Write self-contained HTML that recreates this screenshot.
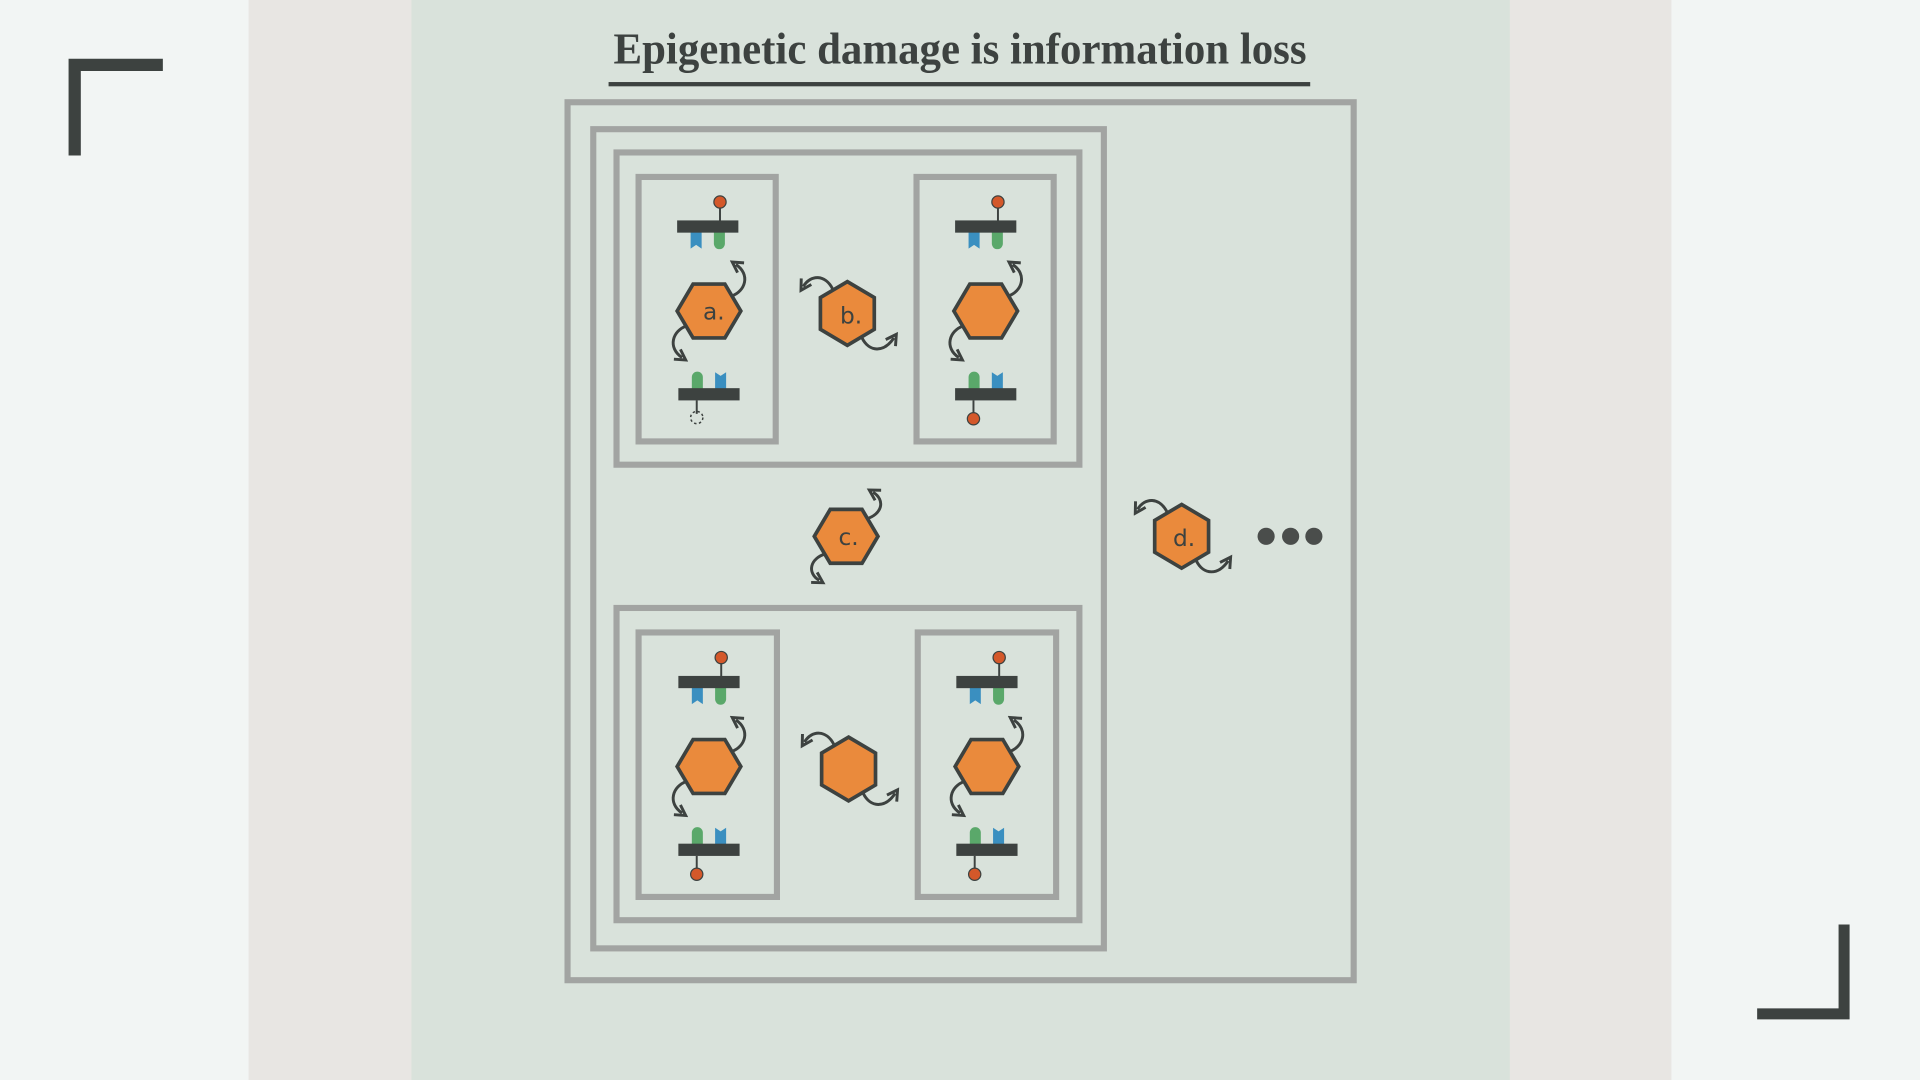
<!DOCTYPE html>
<html><head><meta charset="utf-8"><style>html,body{margin:0;padding:0;width:1920px;height:1080px;overflow:hidden}svg{display:block}</style></head>
<body>
<svg width="1920" height="1080" viewBox="0 0 1568 882" xmlns="http://www.w3.org/2000/svg">
<defs>
<marker id="ah" viewBox="0 0 10 10" refX="5" refY="5" markerWidth="5" markerHeight="5" orient="auto-start-reverse"><path d="M1,1 L8,5 L1,9" fill="none" stroke="#3d4240" stroke-width="2"/></marker>
<g id="molTop">
<line x1="10" y1="-4" x2="10" y2="-18" stroke="#3d4240" stroke-width="1.6"/>
<circle cx="10" cy="-20" r="5" fill="#d4582a" stroke="#3d4240" stroke-width="1"/>
<path d="M-14,4 h9 v14 l-4.5,-3 l-4.5,3 z" fill="#3a8fc0"/>
<path d="M5,4 h9 v10 a4.5,4.5 0 0 1 -9,0 z" fill="#5aa86a"/>
<rect x="-25" y="-5" width="50" height="10" fill="#3d4240"/>
</g>
<g id="molBotBase">
<path d="M-14,-4 v-10 a4.5,4.5 0 0 1 9,0 v10 z" fill="#5aa86a"/>
<path d="M5,-4 v-14 l4.5,3 l4.5,-3 v14 z" fill="#3a8fc0"/>
<rect x="-25" y="-5" width="50" height="10" fill="#3d4240"/>
<line x1="-10" y1="5" x2="-10" y2="16" stroke="#3d4240" stroke-width="1.6"/>
</g>
<g id="molBot">
<use href="#molBotBase"/>
<circle cx="-10" cy="20" r="5" fill="#d4582a" stroke="#3d4240" stroke-width="1"/>
</g>
<polygon id="hexF" points="-26,0 -13,-22 13,-22 26,0 13,22 -13,22" fill="#ea8a3c" stroke="#3d4240" stroke-width="3"/>
<polygon id="hexP" points="0,-26 22,-13 22,13 0,26 -22,13 -22,-13" fill="#ea8a3c" stroke="#3d4240" stroke-width="3"/>
<g id="cellHex">
<path d="M18,-12 C30,-16 34,-30 22,-38" fill="none" stroke="#3d4240" stroke-width="2.4" marker-end="url(#ah)"/>
<path d="M-18,12 C-30,16 -34,30 -22,38" fill="none" stroke="#3d4240" stroke-width="2.4" marker-end="url(#ah)"/>
<use href="#hexF"/>
</g>
<g id="freeHex">
<path d="M-12,-20 C-18,-32 -30,-32 -36,-22" fill="none" stroke="#3d4240" stroke-width="2.4" marker-end="url(#ah)"/>
<path d="M12,20 C18,32 30,32 38,20" fill="none" stroke="#3d4240" stroke-width="2.4" marker-end="url(#ah)"/>
<use href="#hexP"/>
</g>
<g id="cell">
<use href="#molTop" x="0" y="0"/>
<use href="#cellHex" x="0" y="69"/>
<use href="#molBot" x="0" y="137"/>
</g>
</defs>
<rect width="1568" height="882" fill="#f2f5f4"/>
<rect x="203" width="1162" height="882" fill="#e8e6e3"/>
<rect x="336" width="897" height="882" fill="#d9e2db"/>
<!-- corners -->
<path d="M61,127 V53 H133" fill="none" stroke="#3d4240" stroke-width="10"/>
<path d="M1506,755 V828 H1435" fill="none" stroke="#3d4240" stroke-width="9"/>
<!-- title -->
<text x="501" y="52" textLength="566" lengthAdjust="spacingAndGlyphs" font-family="Liberation Serif, serif" font-weight="bold" font-size="36" fill="#3d4240">Epigenetic damage is information loss</text>
<rect x="497" y="67" width="573" height="3.5" fill="#3d4240"/>
<!-- boxes -->
<g fill="none" stroke="#a2a4a2" stroke-width="5">
<rect x="463.5" y="83.5" width="642" height="717"/>
<rect x="484.5" y="105.5" width="417" height="669"/>
<rect x="503.5" y="124.5" width="378" height="255"/>
<rect x="521.5" y="144.5" width="112" height="216"/>
<rect x="748.5" y="144.5" width="112" height="216"/>
<rect x="503.5" y="496.5" width="378" height="255"/>
<rect x="521.5" y="516.5" width="113" height="216"/>
<rect x="749.5" y="516.5" width="113" height="216"/>
</g>
<!-- top-left cell (damaged) -->
<use href="#molTop" x="578" y="185"/>
<use href="#cellHex" x="579" y="254"/>
<use href="#molBotBase" x="579" y="322"/>
<circle cx="569" cy="341" r="5" fill="none" stroke="#3d4240" stroke-width="1.2" stroke-dasharray="2,2"/>
<text x="583" y="261" text-anchor="middle" font-family="DejaVu Sans, sans-serif" font-size="19" fill="#3d4240">a.</text>
<use href="#cell" x="805" y="185"/>
<use href="#cell" x="579" y="557"/>
<use href="#cell" x="806" y="557"/>
<!-- free hexes -->
<use href="#freeHex" x="692" y="256"/>
<text x="695" y="264" text-anchor="middle" font-family="DejaVu Sans, sans-serif" font-size="19" fill="#3d4240">b.</text>
<use href="#freeHex" x="693" y="628"/>
<g transform="translate(691,438)">
<path d="M16,-14 C30,-18 32,-30 22,-36" fill="none" stroke="#3d4240" stroke-width="2.4" marker-end="url(#ah)"/>
<path d="M-16,14 C-30,18 -32,30 -22,36" fill="none" stroke="#3d4240" stroke-width="2.4" marker-end="url(#ah)"/>
<use href="#hexF"/>
</g>
<text x="693" y="445" text-anchor="middle" font-family="DejaVu Sans, sans-serif" font-size="19" fill="#3d4240">c.</text>
<use href="#freeHex" x="965" y="438"/>
<text x="967" y="446" text-anchor="middle" font-family="DejaVu Sans, sans-serif" font-size="19" fill="#3d4240">d.</text>
<circle cx="1034" cy="438" r="7" fill="#4a4d4b"/>
<circle cx="1054" cy="438" r="7" fill="#4a4d4b"/>
<circle cx="1073" cy="438" r="7" fill="#4a4d4b"/>
</svg>
</body></html>
